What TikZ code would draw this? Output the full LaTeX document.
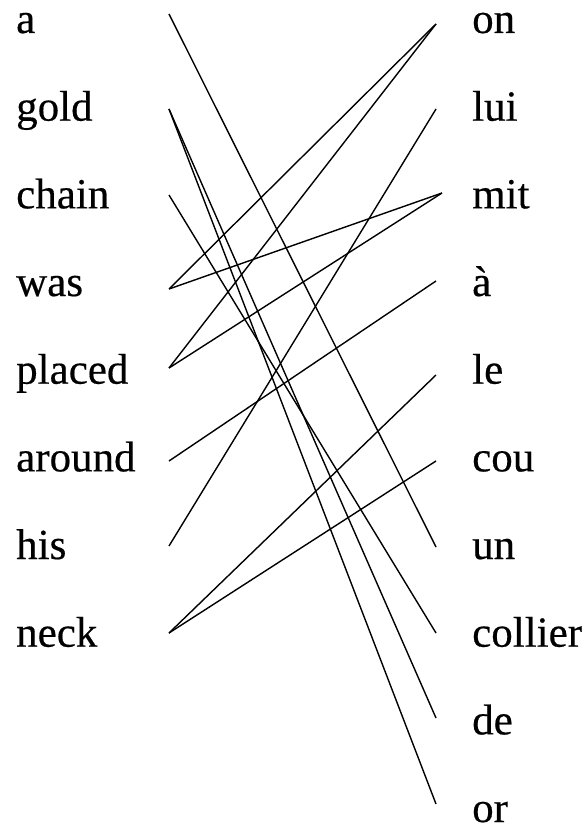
\documentclass[tikz,border=0pt]{standalone}
\usepackage{fontspec}
\setmainfont{Liberation Serif}
\newfontfamily\wordfont{Liberation Serif}[FakeBold=0.4]
\begin{document}
\begin{tikzpicture}[x=1pt,y=-1pt,
  word/.style={anchor=base west, inner sep=0pt, font=\wordfont\fontsize{43}{50}\selectfont},
  link/.style={line width=1.4pt}]
\useasboundingbox (0,0) rectangle (583,829);
% left words
\foreach \w [count=\i from 0] in {a,gold,chain,was,placed,around,his,neck}
  \node[word] (L\w) at (16,{33+87.67*\i}) {\w};
% right words
\foreach \w/\t [count=\i from 0] in {on/on,lui/lui,mit/mit,agrave/à,le/le,cou/cou,un/un,collier/collier,de/de,or/or}
  \node[word] (R\w) at (472,{33+87.67*\i}) {\t};
% endpoints
\coordinate (la) at (169,14);
\coordinate (lgold) at (169,109);
\coordinate (lchain) at (169,195);
\coordinate (lwas) at (169,289);
\coordinate (lplaced) at (169,368);
\coordinate (laround) at (169,461);
\coordinate (lhis) at (169,546);
\coordinate (lneck) at (169,633);
\coordinate (ron) at (436,24);
\coordinate (rlui) at (436,109);
\coordinate (rmit) at (442,193);
\coordinate (ragrave) at (436,281);
\coordinate (rle) at (436,375);
\coordinate (rcou) at (436,461);
\coordinate (run) at (436,547);
\coordinate (rcollier) at (436,633);
\coordinate (rde) at (436,718);
\coordinate (ror) at (436,804);
% links
\draw[link] (la) -- (run);
\draw[link] (lgold) -- (rde);
\draw[link] (lgold) -- (ror);
\draw[link] (lchain) -- (rcollier);
\draw[link] (lwas) -- (ron);
\draw[link] (lwas) -- (rmit);
\draw[link] (lplaced) -- (ron);
\draw[link] (lplaced) -- (rmit);
\draw[link] (laround) -- (ragrave);
\draw[link] (lhis) -- (rlui);
\draw[link] (lneck) -- (rle);
\draw[link] (lneck) -- (rcou);
\end{tikzpicture}
\end{document}
